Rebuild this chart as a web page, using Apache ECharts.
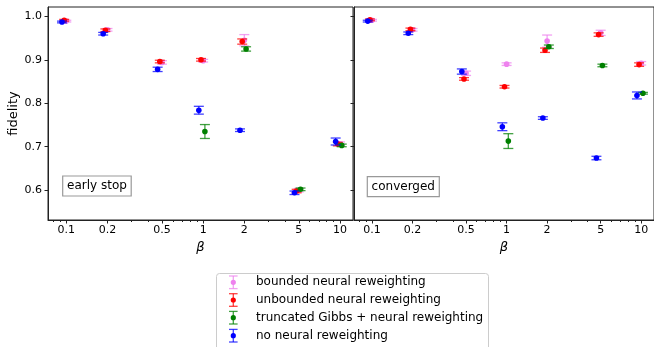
<!DOCTYPE html>
<html><head><meta charset="utf-8">
<script src="https://cdn.jsdelivr.net/npm/echarts@6/dist/echarts.min.js"></script>
<style>html,body{margin:0;padding:0;background:#fff}#c{width:654px;height:347px}</style>
</head><body><div id="c"></div>
<script>
// ---- data ----
const betas = [0.1, 0.2, 0.5, 1, 2, 5, 10];
const xTickValues = [0.1, 0.2, 0.5, 1, 2, 5, 10];
const xTickLabels = ['0.1', '0.2', '0.5', '1', '2', '5', '10'];
const xMinorTicks = [0.08, 0.09, 0.3, 0.4, 0.6, 0.7, 0.8, 0.9, 3, 4, 6, 7, 8, 9];
const yTicks = [0.6, 0.7, 0.8, 0.9, 1.0];
const seriesNames = ['bounded neural reweighting', 'unbounded neural reweighting', 'truncated Gibbs + neural reweighting', 'no neural reweighting'];
const panelTitles = ['early stop', 'converged'];

// early stop panel
const earlyBounded = [0.989, 0.969, 0.894, 0.898, 0.945, 0.600, 0.707];
const earlyBoundedErr = [0.002, 0.003, 0.004, 0.003, 0.013, 0.004, 0.004];
const earlyUnbounded = [0.991, 0.968, 0.896, 0.900, 0.942, 0.598, 0.706];
const earlyUnboundedErr = [0.002, 0.003, 0.003, 0.003, 0.006, 0.004, 0.004];
const earlyTruncGibbs = [null, null, null, 0.735, 0.925, 0.602, 0.703];
const earlyTruncGibbsErr = [null, null, null, 0.016, 0.005, 0.003, 0.003];
const earlyNoReweight = [0.987, 0.960, 0.878, 0.784, 0.738, 0.594, 0.712];
const earlyNoReweightErr = [0.002, 0.003, 0.005, 0.009, 0.003, 0.004, 0.008];

// converged panel
const convBounded = [0.991, 0.969, 0.869, 0.890, 0.943, 0.962, 0.892];
const convBoundedErr = [0.002, 0.003, 0.005, 0.003, 0.014, 0.006, 0.004];
const convUnbounded = [0.992, 0.970, 0.856, 0.838, 0.922, 0.958, 0.889];
const convUnboundedErr = [0.002, 0.003, 0.003, 0.003, 0.005, 0.004, 0.004];
const convTruncGibbs = [null, null, null, 0.713, 0.930, 0.887, 0.823];
const convTruncGibbsErr = [null, null, null, 0.017, 0.004, 0.003, 0.002];
const convNoReweight = [0.989, 0.961, 0.873, 0.746, 0.766, 0.674, 0.818];
const convNoReweightErr = [0.002, 0.003, 0.006, 0.009, 0.003, 0.004, 0.008];

// ---- styling ----
const colors = ['#ee82ee', '#ff0000', '#008000', '#0000ff'];
const xShift = [1.0, 0.965, 1.03, 0.93]; // horizontal dodge factor per series (log axis)
const FONT = 'DejaVu Sans';

const panels = [
  [[earlyBounded, earlyBoundedErr], [earlyUnbounded, earlyUnboundedErr], [earlyTruncGibbs, earlyTruncGibbsErr], [earlyNoReweight, earlyNoReweightErr]],
  [[convBounded, convBoundedErr], [convUnbounded, convUnboundedErr], [convTruncGibbs, convTruncGibbsErr], [convNoReweight, convNoReweightErr]]
];

function makeRender(color) {
  return function (params, api) {
    const x = api.value(0), y = api.value(1), e = api.value(2);
    const c = api.coord([x, y]);
    const t = api.coord([x, y + e]);
    const b = api.coord([x, y - e]);
    const cw = 5;
    const ls = { stroke: color, lineWidth: 1.3, opacity: 0.75 };
    return {
      type: 'group',
      children: [
        { type: 'line', shape: { x1: c[0], y1: t[1], x2: c[0], y2: b[1] }, style: ls },
        { type: 'line', shape: { x1: c[0] - cw, y1: t[1], x2: c[0] + cw, y2: t[1] }, style: ls },
        { type: 'line', shape: { x1: c[0] - cw, y1: b[1], x2: c[0] + cw, y2: b[1] }, style: ls },
        { type: 'circle', shape: { cx: c[0], cy: c[1], r: 2.8 }, style: { fill: color } }
      ]
    };
  };
}

const series = [];
panels.forEach((panel, pi) => {
  panel.forEach(([vals, errs], si) => {
    const data = [];
    betas.forEach((b, i) => {
      if (vals[i] != null) data.push([b * xShift[si], vals[i], errs[i]]);
    });
    series.push({
      type: 'custom', name: seriesNames[si],
      xAxisIndex: pi * 2, yAxisIndex: pi,
      renderItem: makeRender(colors[si]),
      encode: { x: 0, y: 1 },
      data: data, z: 2 + si, clip: false, silent: true
    });
  });
});

const xMin = 0.0735, xMax = 12.45;
const yMin = 0.5314, yMax = 1.0215;
const grids = [
  { left: 48, top: 7, width: 305, height: 213, show: true, borderColor: '#222', borderWidth: 1 },
  { left: 354, top: 7, width: 305, height: 213, show: true, borderColor: '#222', borderWidth: 1 }
];
const xAxes = [];
[0, 1].forEach(gi => {
  xAxes.push({
    type: 'log', logBase: 10, gridIndex: gi, min: xMin, max: xMax, position: 'bottom',
    name: 'β', nameLocation: 'middle', nameGap: 14,
    nameTextStyle: { fontFamily: FONT, fontSize: 13, fontStyle: 'italic', color: '#000' },
    axisLine: { show: true, lineStyle: { color: '#222', width: 1 } },
    axisTick: { show: true, length: 3.5, customValues: xTickValues, lineStyle: { color: '#222' } },
    axisLabel: {
      show: true, customValues: xTickValues, margin: 5,
      fontFamily: FONT, fontSize: 11, color: '#000',
      formatter: v => xTickLabels[xTickValues.findIndex(t => Math.abs(t - v) < 1e-9)] || ''
    },
    splitLine: { show: false }, minorTick: { show: false }
  });
  xAxes.push({
    type: 'log', logBase: 10, gridIndex: gi, min: xMin, max: xMax, position: 'bottom',
    axisLine: { show: false },
    axisTick: { show: true, length: 2, customValues: xMinorTicks, lineStyle: { color: '#222' } },
    axisLabel: { show: false }, splitLine: { show: false }
  });
});
const yAxes = [0, 1].map(gi => ({
  type: 'value', gridIndex: gi, min: yMin, max: yMax,
  name: gi === 0 ? 'fidelity' : '', nameLocation: 'middle', nameGap: 26,
  nameTextStyle: { fontFamily: FONT, fontSize: 13, color: '#000' },
  axisLine: { show: true, lineStyle: { color: '#222', width: 1 } },
  axisTick: { show: true, length: 3.5, customValues: yTicks, lineStyle: { color: '#222' } },
  axisLabel: {
    show: gi === 0, customValues: yTicks, margin: 6,
    fontFamily: FONT, fontSize: 11, color: '#000',
    formatter: v => v.toFixed(1)
  },
  splitLine: { show: false }
}));

// legend drawn as graphic
const legendRows = [282.3, 300, 317.7, 335.7];
const legendChildren = [{
  type: 'rect', shape: { x: 216.5, y: 273.5, width: 272, height: 80, r: 3 },
  style: { fill: '#fff', stroke: '#cccccc', lineWidth: 1 }
}];
seriesNames.forEach((n, i) => {
  const cy = legendRows[i], cx = 233.3, col = colors[i];
  const ls = { stroke: col, lineWidth: 1.3, opacity: 0.75 };
  legendChildren.push(
    { type: 'line', shape: { x1: cx, y1: cy - 6.3, x2: cx, y2: cy + 6.3 }, style: ls },
    { type: 'line', shape: { x1: cx - 4.3, y1: cy - 6.3, x2: cx + 4.3, y2: cy - 6.3 }, style: ls },
    { type: 'line', shape: { x1: cx - 4.3, y1: cy + 6.3, x2: cx + 4.3, y2: cy + 6.3 }, style: ls },
    { type: 'circle', shape: { cx: cx, cy: cy, r: 2.6 }, style: { fill: col } },
    { type: 'text', x: 256, y: cy, style: { text: n, fontFamily: FONT, fontSize: 12, fill: '#000', verticalAlign: 'middle', textAlign: 'left' } }
  );
});
const boxes = [
  { x: 62.7, y: 176, w: 68.5, label: panelTitles[0] },
  { x: 367.3, y: 176.7, w: 72, label: panelTitles[1] }
];
boxes.forEach(b => {
  legendChildren.push(
    { type: 'rect', shape: { x: b.x, y: b.y, width: b.w, height: 20 }, style: { fill: '#fff', stroke: '#999', lineWidth: 1.2 }, z: 10 },
    { type: 'text', x: b.x + b.w / 2, y: b.y + 10, style: { text: b.label, fontFamily: FONT, fontSize: 12, fill: '#000', textAlign: 'center', verticalAlign: 'middle' }, z: 11 }
  );
});

const chart = echarts.init(document.getElementById('c'), null, { renderer: 'canvas' });
chart.setOption({
  backgroundColor: '#fff',
  animation: false,
  grid: grids,
  xAxis: xAxes,
  yAxis: yAxes,
  series: series,
  graphic: { elements: legendChildren }
});
</script>
</body></html>
